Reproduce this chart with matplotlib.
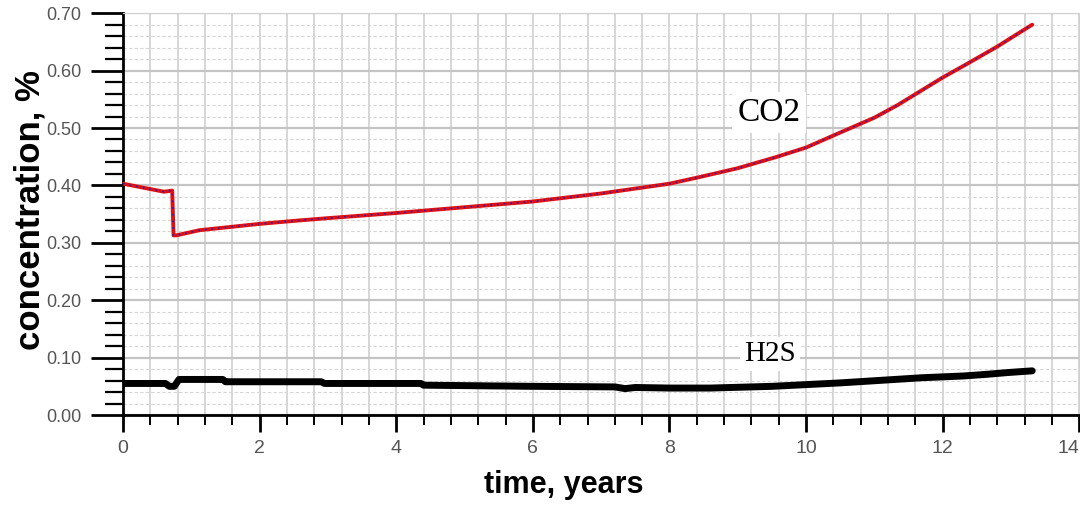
import numpy as np
import matplotlib.pyplot as plt
from matplotlib.ticker import MultipleLocator

# CO2 concentration, %
co2_t = [0.0, 0.3, 0.6, 0.72, 0.74, 0.78, 1.12, 2.0, 2.58, 3.0, 4.0, 5.0, 6.0, 7.0,
         8.0, 8.42, 9.0, 9.55, 10.0, 10.42, 11.0, 11.34, 12.0, 12.36, 12.8, 13.31]
co2_c = [0.403, 0.396, 0.389, 0.391, 0.313, 0.313, 0.322, 0.333, 0.339, 0.343, 0.352,
         0.362, 0.372, 0.386, 0.403, 0.414, 0.430, 0.449, 0.466, 0.488, 0.518, 0.540,
         0.588, 0.612, 0.642, 0.680]

# H2S concentration, %
h2s_t = [0.0, 0.62, 0.68, 0.75, 0.82, 1.46, 1.5, 2.9, 2.95, 4.36, 4.4, 6.0, 7.2, 7.35,
         7.5, 8.0, 8.6, 9.5, 10.0, 10.5, 10.9, 11.3, 11.7, 12.3, 12.65, 12.95, 13.31]
h2s_c = [0.055, 0.055, 0.050, 0.050, 0.062, 0.062, 0.058, 0.058, 0.055, 0.055, 0.052,
         0.050, 0.049, 0.046, 0.048, 0.047, 0.047, 0.050, 0.053, 0.056, 0.059, 0.062,
         0.065, 0.068, 0.071, 0.074, 0.077]

x_ticks = [0, 2, 4, 6, 8, 10, 12, 14]
y_ticks = [0.0, 0.1, 0.2, 0.3, 0.4, 0.5, 0.6, 0.7]

sans = ['Liberation Sans', 'DejaVu Sans']

fig = plt.figure(figsize=(10.8, 5.08), dpi=100)
ax = fig.add_axes([0.1139, 0.183, 0.8855, 0.791])

ax.plot(co2_t, co2_c, color='#e01010', lw=2.8, zorder=4, solid_capstyle='round')
ax.plot(co2_t, co2_c, color='#2020d0', lw=1.2, ls=(0, (1, 3)), zorder=5)
ax.plot(h2s_t, h2s_c, color='black', lw=5, zorder=4, solid_capstyle='round')

ax.set_xlim(0, 14)
ax.set_ylim(0, 0.70)
ax.set_xticks(x_ticks)
ax.set_yticks(y_ticks)
ax.xaxis.set_minor_locator(MultipleLocator(0.4))
ax.yaxis.set_minor_locator(MultipleLocator(0.02))

ax.grid(which='major', axis='y', color='#c4c4c4', lw=1.6)
ax.grid(which='minor', axis='y', color='#d6d6d6', lw=0.8, ls=(0, (3, 2)))
ax.grid(which='both', axis='x', color='#cccccc', lw=1.1)

ax.set_yticklabels(['%.2f' % v for v in y_ticks], family=sans, fontsize=13, color='#555555')
ax.set_xticklabels([str(v) for v in x_ticks], family=sans, fontsize=14, color='#555555')
ax.get_xticklabels()[-1].set_ha('right')

ax.tick_params(axis='y', which='major', direction='out', length=23, width=2, pad=7)
ax.tick_params(axis='y', which='minor', direction='out', length=13, width=1.6)
ax.tick_params(axis='x', which='major', direction='out', length=12, width=2, pad=6)
ax.tick_params(axis='x', which='minor', direction='out', length=7, width=1.4)

for side in ['top', 'right']:
    ax.spines[side].set_color('#d0d0d0')
ax.spines['left'].set_linewidth(2)
ax.spines['bottom'].set_linewidth(2)

ax.text(9.46, 0.527, 'CO2', family='Liberation Serif', fontsize=24, ha='center', va='center',
        zorder=6, bbox=dict(facecolor='white', edgecolor='none', pad=4))
ax.text(9.47, 0.106, 'H2S', family='Liberation Serif', fontsize=21, ha='center', va='center',
        zorder=6, bbox=dict(facecolor='white', edgecolor='none', pad=3))

fig.text(0.028, 0.587, 'concentration, %', rotation=90, fontsize=25, fontweight='bold',
         family=sans, ha='center', va='center')
fig.text(0.522, 0.045, 'time, years', fontsize=22, fontweight='bold',
         family=sans, ha='center', va='center')

fig.savefig('out.png', dpi=100)
